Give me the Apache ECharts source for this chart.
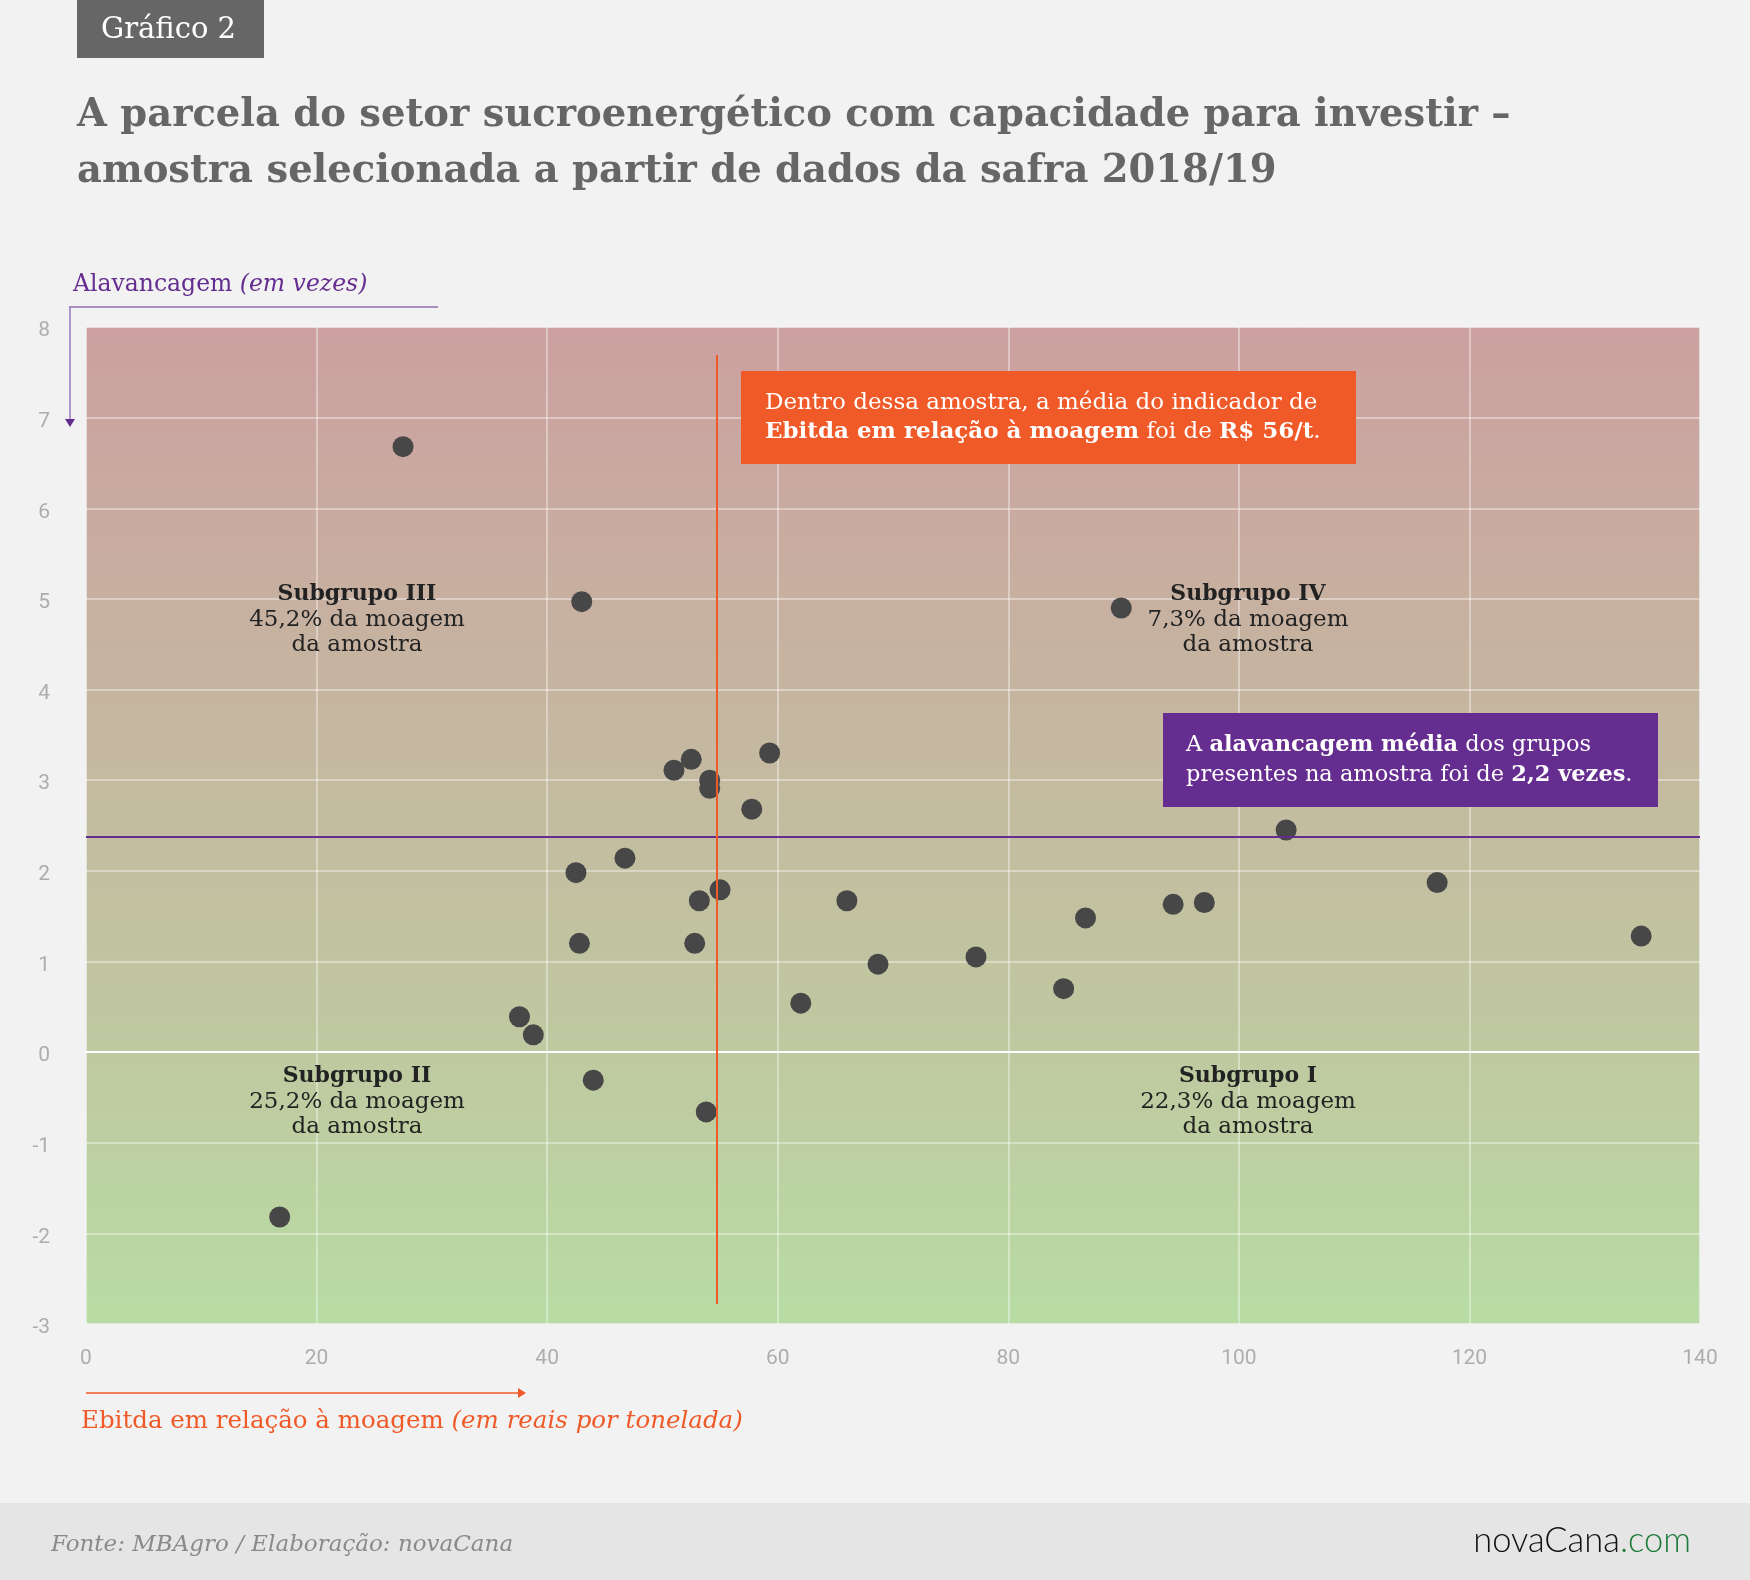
<!DOCTYPE html>
<html lang="pt-BR">
<head>
    <meta charset="UTF-8">
    <title>Gráfico 2 - setor sucroenergético</title>
    <style>
        html, body { margin: 0; padding: 0; background: #f2f2f2; }
        #main { width: 1750px; height: 1580px; }
    </style>
</head>
<body>
<div id="main"></div>
<script src="https://cdn.jsdelivr.net/npm/echarts@6/dist/echarts.min.js"></script>
<script>
    const myChart = echarts.init(document.getElementById('main'));

    // Ebitda em relação à moagem (R$/t)
    const ebitda = [27.5, 43.0, 89.8, 59.3, 52.5, 51.0, 54.1, 54.1, 57.75, 104.1,
        46.75, 42.5, 117.2, 55.0, 53.2, 66.0, 97.0, 94.3, 86.7, 42.8,
        52.8, 134.9, 77.2, 68.7, 84.8, 62.0, 37.6, 38.8, 44.0, 53.8, 16.8];
    // Alavancagem (em vezes)
    const alavancagem = [6.68, 4.97, 4.90, 3.30, 3.23, 3.11, 3.00, 2.91, 2.68, 2.45,
        2.14, 1.98, 1.87, 1.79, 1.67, 1.67, 1.65, 1.63, 1.48, 1.20,
        1.20, 1.28, 1.05, 0.97, 0.70, 0.54, 0.39, 0.19, -0.31, -0.66, -1.82];

    // linhas de referência (posição)
    const linhaEbitda = 54.7;
    const linhaAlavancagem = 2.38;
    const linhaEbitdaTopo = 7.69, linhaEbitdaBase = -2.78;

    // eixos
    const xMin = 0, xMax = 140, xStep = 20;
    const yMin = -3, yMax = 8, yStep = 1;

    const subgrupos = [
        {nome: 'Subgrupo III', pct: '45,2%', x: 357, y: 595},
        {nome: 'Subgrupo IV', pct: '7,3%', x: 1248, y: 595},
        {nome: 'Subgrupo II', pct: '25,2%', x: 357, y: 1077},
        {nome: 'Subgrupo I', pct: '22,3%', x: 1248, y: 1077}
    ];

    const serif = '"DejaVu Serif", serif';
    const laranja = '#f05a28';
    const roxo = '#652d8f';

    const points = ebitda.map((x, i) => [x, alavancagem[i]]);

    const graphics = [
        // faixa do rodapé
        {type: 'rect', shape: {x: 0, y: 1503, width: 1750, height: 77}, style: {fill: '#e5e5e5'}, z: 0},
        {type: 'text', style: {x: 51, y: 1545, text: 'Fonte: MBAgro / Elaboração: novaCana',
            font: 'italic 23px ' + serif, fill: '#8a8a8a', textVerticalAlign: 'middle'}},
        {type: 'text', style: {x: 1691, y: 1541, textAlign: 'right', textVerticalAlign: 'middle',
            text: '{a|novaCana}{b|.com}',
            rich: {a: {font: '300 34.5px Lato', fill: '#111'}, b: {font: '300 34.5px Lato', fill: '#1e7b3c'}}}},
        // selo
        {type: 'rect', shape: {x: 77, y: 0, width: 187, height: 58}, style: {fill: '#666666'}},
        {type: 'text', style: {x: 101, y: 30, text: 'Gráfico 2', font: '29px ' + serif, fill: '#fff',
            textVerticalAlign: 'middle'}},
        // título
        {type: 'text', style: {x: 77, y: 116, textVerticalAlign: 'middle',
            text: 'A parcela do setor sucroenergético com capacidade para investir –',
            font: 'bold 38.5px ' + serif, fill: '#666'}},
        {type: 'text', style: {x: 77, y: 172, textVerticalAlign: 'middle',
            text: 'amostra selecionada a partir de dados da safra 2018/19',
            font: 'bold 38.5px ' + serif, fill: '#666'}},
        // título do eixo y
        {type: 'text', style: {x: 73, y: 285, textVerticalAlign: 'middle',
            text: '{a|Alavancagem }{b|(em vezes)}',
            rich: {a: {font: '23.5px ' + serif, fill: roxo}, b: {font: 'italic 23.5px ' + serif, fill: roxo}}}},
        {type: 'line', shape: {x1: 69, y1: 307, x2: 438, y2: 307}, style: {stroke: roxo, lineWidth: 1}},
        {type: 'line', shape: {x1: 70, y1: 307, x2: 70, y2: 420}, style: {stroke: '#9a78bd', lineWidth: 1.5}},
        {type: 'polygon', shape: {points: [[65, 419], [75, 419], [70, 427]]}, style: {fill: roxo}},
        // título do eixo x
        {type: 'line', shape: {x1: 86, y1: 1393, x2: 520, y2: 1393}, style: {stroke: laranja, lineWidth: 1.5}},
        {type: 'polygon', shape: {points: [[518, 1388], [526, 1393], [518, 1398]]}, style: {fill: laranja}},
        {type: 'text', style: {x: 81, y: 1422, textVerticalAlign: 'middle',
            text: '{a|Ebitda em relação à moagem }{b|(em reais por tonelada)}',
            rich: {a: {font: '24.5px ' + serif, fill: laranja}, b: {font: 'italic 24.5px ' + serif, fill: laranja}}}},
        // caixa laranja
        {type: 'rect', shape: {x: 741, y: 371, width: 615, height: 93}, style: {fill: laranja}, z: 10},
        {type: 'text', z: 11, style: {x: 765, y: 418, textVerticalAlign: 'middle',
            text: '{n|Dentro dessa amostra, a média do indicador de}\n{b|Ebitda em relação à moagem}{n| foi de }{b|R$ 56/t}{n|.}',
            rich: {n: {font: '23px ' + serif, fill: '#fff', lineHeight: 29},
                b: {font: 'bold 23px ' + serif, fill: '#fff', lineHeight: 29}}}},
        // caixa roxa
        {type: 'rect', shape: {x: 1163, y: 713, width: 495, height: 94}, style: {fill: roxo}, z: 10},
        {type: 'text', z: 11, style: {x: 1186, y: 760, textVerticalAlign: 'middle',
            text: '{n|A }{b|alavancagem média}{n| dos grupos}\n{n|presentes na amostra foi de }{b|2,2 vezes}{n|.}',
            rich: {n: {font: '22.5px ' + serif, fill: '#fff', lineHeight: 30},
                b: {font: 'bold 22.5px ' + serif, fill: '#fff', lineHeight: 30}}}}
    ];

    subgrupos.forEach(s => {
        graphics.push({type: 'text', z: 5, style: {x: s.x, y: s.y + 25, textAlign: 'center', textVerticalAlign: 'middle',
            text: '{t|' + s.nome + '}\n{n|' + s.pct + ' da moagem}\n{n|da amostra}',
            rich: {t: {font: 'bold 22px ' + serif, fill: '#222', lineHeight: 25.5, align: 'center'},
                n: {font: '23px ' + serif, fill: '#222', lineHeight: 25.5, align: 'center'}}}});
    });

    const option = {
        backgroundColor: '#f2f2f2',
        animation: false,
        grid: {
            left: 86, right: 50, top: 327, bottom: 256,
            show: true,
            borderColor: '#e3e3e3', borderWidth: 1,
            backgroundColor: new echarts.graphic.LinearGradient(0, 0, 0, 1, [
                {offset: 0, color: '#cca0a0'},
                {offset: 0.45, color: '#c4baa0'},
                {offset: 0.727, color: '#bfc9a0'},
                {offset: 1, color: '#b8dca4'}
            ])
        },
        xAxis: {
            type: 'value', min: xMin, max: xMax, interval: xStep,
            axisLine: {show: false}, axisTick: {show: false},
            axisLabel: {color: '#adadad', fontSize: 21, fontFamily: 'Roboto', margin: 24},
            splitLine: {lineStyle: {color: 'rgba(255,255,255,0.5)', width: 1.5}}
        },
        yAxis: {
            type: 'value', min: yMin, max: yMax, interval: yStep,
            axisLine: {show: false}, axisTick: {show: false},
            axisLabel: {color: '#adadad', fontSize: 21, fontFamily: 'Roboto', margin: 36,
                verticalAlign: 'top', lineHeight: 8},
            splitLine: {lineStyle: {color: 'rgba(255,255,255,0.5)', width: 1.5}}
        },
        series: [{
            type: 'scatter',
            data: points,
            symbolSize: 21,
            itemStyle: {color: '#474747', opacity: 1},
            z: 4,
            markLine: {
                silent: true, symbol: 'none', label: {show: false},
                data: [
                    {yAxis: 0, lineStyle: {color: '#ffffff', width: 2, type: 'solid'}},
                    {yAxis: linhaAlavancagem, lineStyle: {color: roxo, width: 2, type: 'solid'}},
                    [{coord: [linhaEbitda, linhaEbitdaTopo], lineStyle: {color: laranja, width: 2, type: 'solid'}},
                        {coord: [linhaEbitda, linhaEbitdaBase]}]
                ]
            }
        }],
        graphic: graphics
    };

    myChart.setOption(option);
</script>
</body>
</html>
